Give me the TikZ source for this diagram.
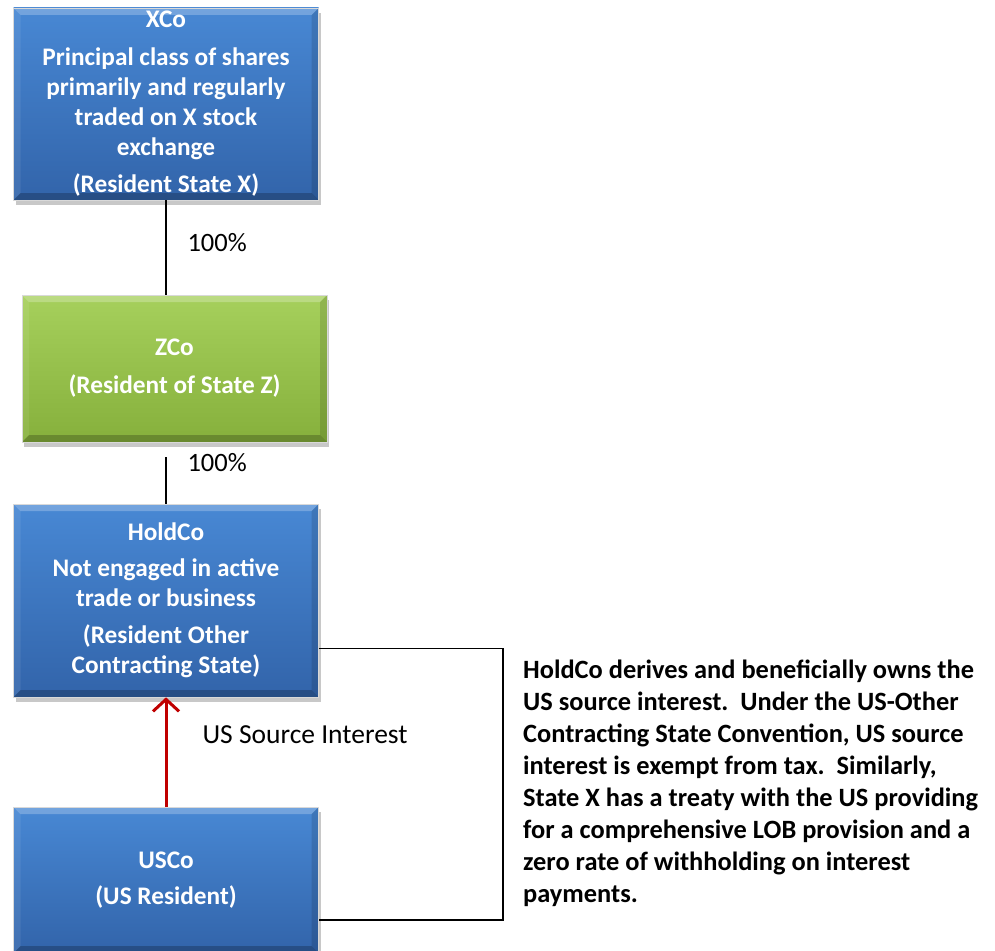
\documentclass[tikz,border=0pt]{standalone}
\usepackage{fontspec}
\setmainfont{Carlito}
\usetikzlibrary{shadows,calc,arrows.meta}

\definecolor{blueTop}{RGB}{72,136,212}
\definecolor{blueBot}{RGB}{50,100,170}
\definecolor{greenTop}{RGB}{166,208,92}
\definecolor{greenBot}{RGB}{134,176,60}
\definecolor{flowRed}{RGB}{192,0,0}

\tikzset{
  bevel/.style={path picture={
    \coordinate (bnw) at (path picture bounding box.north west);
    \coordinate (bne) at (path picture bounding box.north east);
    \coordinate (bsw) at (path picture bounding box.south west);
    \coordinate (bse) at (path picture bounding box.south east);
    \fill[white,opacity=.24] (bnw) -- (bne) -- ($(bne)+(-7,7)$) -- ($(bnw)+(7,7)$) -- cycle;
    \fill[white,opacity=.08] (bnw) -- ($(bnw)+(7,7)$) -- ($(bsw)+(7,-7)$) -- (bsw) -- cycle;
    \fill[black,opacity=.12] (bne) -- ($(bne)+(-7,7)$) -- ($(bse)+(-7,-7)$) -- (bse) -- cycle;
    \fill[black,opacity=.22] (bsw) -- (bse) -- ($(bse)+(-7,-7)$) -- ($(bsw)+(7,-7)$) -- cycle;
  }},
  entity/.style={rectangle, minimum width=305, inner sep=0pt,
    text=white, align=center,
    font=\fontsize{25.3}{30}\selectfont\bfseries,
    draw=black!15, line width=0.6pt,
    drop shadow={shadow xshift=2pt, shadow yshift=-5pt, opacity=0.3, fill=black!70},
    bevel},
  bluebox/.style={entity, top color=blueTop, bottom color=blueBot},
  greenbox/.style={entity, top color=greenTop, bottom color=greenBot},
  link/.style={draw=black, line width=1.6pt},
  pct/.style={anchor=west, font=\fontsize{26.5}{30}\selectfont},
  flow/.style={draw=flowRed, line width=3pt,
    -{Straight Barb[length=12pt, width=26pt, line width=3pt]}},
  note/.style={anchor=north west, align=left, inner sep=0pt,
    font=\fontsize{26.4}{32}\selectfont\bfseries}
}

\begin{document}
\begin{tikzpicture}[x=1pt, y=-1pt]
  \useasboundingbox[fill=white] (0,0) rectangle (995,950);

  % ownership chain
  \node[bluebox, minimum height=192] (xco) at (166,104)
    {XCo\\[8pt]Principal class of shares\\primarily and regularly\\traded on X stock\\exchange\\[7pt](Resident State X)};
  \node[greenbox, minimum height=147] (zco) at (174.5,368.5)
    {ZCo\\[8pt](Resident of State Z)};
  \node[bluebox, minimum height=193] (hold) at (166,600.5)
    {HoldCo\\[6pt]Not engaged in active\\trade or business\\[7pt](Resident Other\\Contracting State)};
  \node[bluebox, minimum height=146] (usco) at (166,880)
    {USCo\\[6pt](US Resident)};

  % ownership links
  \draw[link] (xco.south) -- (xco.south |- zco.north);
  \node[pct] (p1) at (184,243) {100\%};
  \draw[link, shorten <=15pt] (hold.north |- zco.south) -- (hold.north);
  \node[pct] (p2) at (184,463) {100\%};

  % interest payment
  \draw[flow] (usco.north) -- (hold.south);
  \node[pct, font=\fontsize{27.5}{30}\selectfont] (flowlbl) at (199,735) {US Source Interest};

  % bracket tying the flow to the note
  \coordinate (b1) at ($(hold.south east)+(0,-49)$);
  \coordinate (b2) at ($(usco.east)+(0,40)$);
  \draw[link] (b1) -- ++(184,0) |- (b2);

  \node[note] (txt) at (523,660)
    {HoldCo derives and beneficially owns the\\
     US source interest.\ \ Under the US-Other\\
     Contracting State Convention, US source\\
     interest is exempt from tax.\ \ Similarly,\\
     State X has a treaty with the US providing\\
     for a comprehensive LOB provision and a\\
     zero rate of withholding on interest\\
     payments.};
\end{tikzpicture}
\end{document}
